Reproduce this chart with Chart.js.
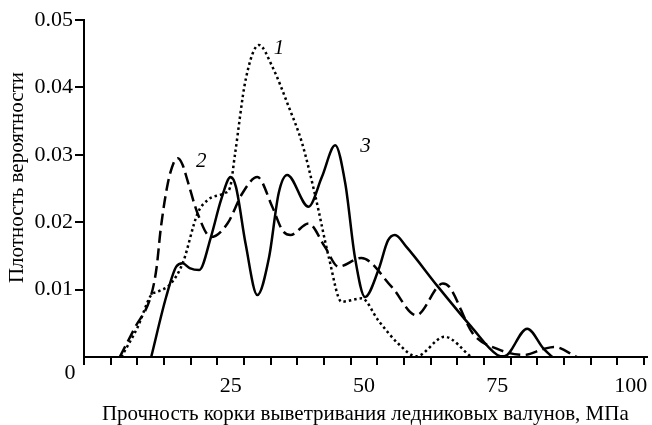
<!DOCTYPE html>
<html><head><meta charset="utf-8">
<script src="https://cdn.jsdelivr.net/npm/chart.js@4/dist/chart.umd.min.js"></script>
<style>html,body{margin:0;padding:0;background:#fff}</style>
</head><body>
<canvas id="c" width="652" height="425"></canvas>
<script>
// ---- data ----
const xTickLabels = [25, 50, 75, 100];
const yTickValues = [0, 0.01, 0.02, 0.03, 0.04, 0.05];
const seriesNames = ['1', '2', '3'];

const curve1X = [4.5, 7.6, 10.1, 11.4, 13.8, 16.0, 18.8, 20.7, 23.8, 24.9, 25.8, 27.8, 30.3, 32.8, 35.9, 38.4, 40.9, 43.4, 45.8, 49.6, 52.7, 56.4, 59.8, 65.1, 70.1];
const curve1Y = [0, 0.0045, 0.0092, 0.0097, 0.0109, 0.0139, 0.0213, 0.0233, 0.0243, 0.0252, 0.0300, 0.0411, 0.0463, 0.0431, 0.0371, 0.0317, 0.0238, 0.0148, 0.0082, 0.0087, 0.0054, 0.0020, 0.0001, 0.0030, 0];

const curve2X = [4.2, 7.0, 10.1, 11.1, 11.9, 13.2, 14.3, 15.1, 16.0, 16.9, 18.8, 21.3, 24.4, 27.2, 30.0, 32.8, 34.7, 36.2, 39.6, 42.7, 45.2, 49.5, 55.2, 59.8, 64.8, 66.0, 70.4, 75.0, 80.0, 83.7, 85.6, 89.9];
const curve2Y = [0, 0.0043, 0.0092, 0.0132, 0.0191, 0.0257, 0.0288, 0.0295, 0.0285, 0.0262, 0.0213, 0.0178, 0.0198, 0.0243, 0.0267, 0.0223, 0.0188, 0.0181, 0.0198, 0.0163, 0.0134, 0.0147, 0.0104, 0.0062, 0.0109, 0.0104, 0.0035, 0.0012, 0.0003, 0.0012, 0.0015, 0];

const curve3X = [10.1, 12.9, 14.8, 16.0, 17.3, 19.1, 21.3, 23.2, 25.0, 26.0, 27.8, 30.0, 32.2, 34.0, 35.6, 39.6, 42.1, 44.6, 46.5, 48.3, 50.2, 52.7, 54.5, 55.8, 58.0, 63.9, 70.1, 75.0, 76.3, 80.6, 83.7, 85.3];
const curve3Y = [0, 0.0089, 0.0134, 0.0139, 0.0132, 0.0129, 0.0178, 0.0233, 0.0267, 0.0252, 0.0168, 0.0092, 0.0148, 0.0243, 0.0270, 0.0223, 0.0267, 0.0314, 0.0257, 0.0148, 0.0089, 0.0129, 0.0173, 0.0181, 0.0163, 0.0104, 0.0045, 0.0003, 0.0001, 0.0042, 0.0012, 0];

// curve label anchors (data coordinates)
const labelX = [33.1, 18.5, 49.3];
const labelY = [0.0458, 0.0290, 0.0312];

const xTitle = 'Прочность корки выветривания ледниковых валунов, МПа';
const yTitle = 'Плотность вероятности';

// ---- build ----
function pts(xs, ys) { return xs.map((x, i) => ({ x: x, y: ys[i] })); }
const SERIF = '"Liberation Serif", "DejaVu Serif", serif';

const xTickMarks = [];
for (let v = -2.5; v <= 102.5; v += 5) xTickMarks.push(v);

const textPlugin = {
  id: 'extraText',
  afterDraw(chart) {
    const ctx = chart.ctx;
    const xs = chart.scales.x, ys = chart.scales.y;
    const area = chart.chartArea;
    ctx.save();
    ctx.fillStyle = '#000';
    ctx.font = '22px ' + SERIF;
    ctx.textAlign = 'center';
    ctx.textBaseline = 'middle';
    ctx.fillText('0', area.left - 14, area.bottom + 16);
    // y axis title
    ctx.save();
    ctx.font = '21px ' + SERIF;
    ctx.translate(17.5, (area.top + area.bottom) / 2 - 11);
    ctx.rotate(-Math.PI / 2);
    ctx.fillText(yTitle, 0, 0);
    ctx.restore();
    // curve numbers
    ctx.font = 'italic 21px ' + SERIF;
    ctx.textAlign = 'left';
    seriesNames.forEach((n, i) => {
      ctx.fillText(n, xs.getPixelForValue(labelX[i]), ys.getPixelForValue(labelY[i]));
    });
    ctx.restore();
  }
};

const common = { pointRadius: 0, borderColor: '#000', borderWidth: 2.5, cubicInterpolationMode: 'monotone', fill: false };

new Chart(document.getElementById('c'), {
  type: 'line',
  data: {
    datasets: [
      Object.assign({ label: seriesNames[0], data: pts(curve1X, curve1Y), borderDash: [2.5, 3], borderCapStyle: 'butt' }, common),
      Object.assign({ label: seriesNames[1], data: pts(curve2X, curve2Y), borderDash: [12, 5.5] }, common),
      Object.assign({ label: seriesNames[2], data: pts(curve3X, curve3Y) }, common)
    ]
  },
  plugins: [textPlugin],
  options: {
    responsive: false,
    animation: false,
    devicePixelRatio: 1,
    layout: { padding: { top: 20, right: 2, left: 0, bottom: 0 } },
    plugins: { legend: { display: false }, tooltip: { enabled: false } },
    scales: {
      x: {
        type: 'linear', min: -2.5, max: 103,
        afterBuildTicks(scale) { scale.ticks = xTickMarks.concat(xTickLabels).sort((a, b) => a - b).map(v => ({ value: v })); },
        afterFit(scale) { scale.height = 68; },
        ticks: {
          autoSkip: false, maxRotation: 0, color: '#000', padding: 8,
          font: { family: SERIF, size: 22 },
          callback: v => xTickLabels.includes(v) ? String(v) : ''
        },
        grid: {
          drawOnChartArea: false, drawTicks: true, tickLength: 8, lineWidth: 2,
          color: c => (c.tick && xTickLabels.includes(c.tick.value)) ? 'rgba(0,0,0,0)' : '#000',
          tickColor: c => (c.tick && xTickLabels.includes(c.tick.value)) ? 'rgba(0,0,0,0)' : '#000'
        },
        border: { display: true, color: '#000', width: 2 },
        title: { display: true, text: xTitle, color: '#000', font: { family: SERIF, size: 21, lineHeight: 1 }, padding: { top: 0, bottom: 0 } }
      },
      y: {
        min: 0, max: 0.05,
        afterBuildTicks(scale) { scale.ticks = yTickValues.map(v => ({ value: v })); },
        afterFit(scale) { scale.width = 84; },
        ticks: {
          color: '#000', padding: 2,
          font: { family: SERIF, size: 22 },
          callback: v => v === 0 ? '' : v.toFixed(2)
        },
        grid: {
          drawOnChartArea: false, drawTicks: true, tickLength: 9, lineWidth: 2,
          color: c => (c.tick && c.tick.value === 0) ? 'rgba(0,0,0,0)' : '#000',
          tickColor: c => (c.tick && c.tick.value === 0) ? 'rgba(0,0,0,0)' : '#000'
        },
        border: { display: true, color: '#000', width: 2 },
        title: { display: false }
      }
    }
  }
});
</script>
</body></html>
